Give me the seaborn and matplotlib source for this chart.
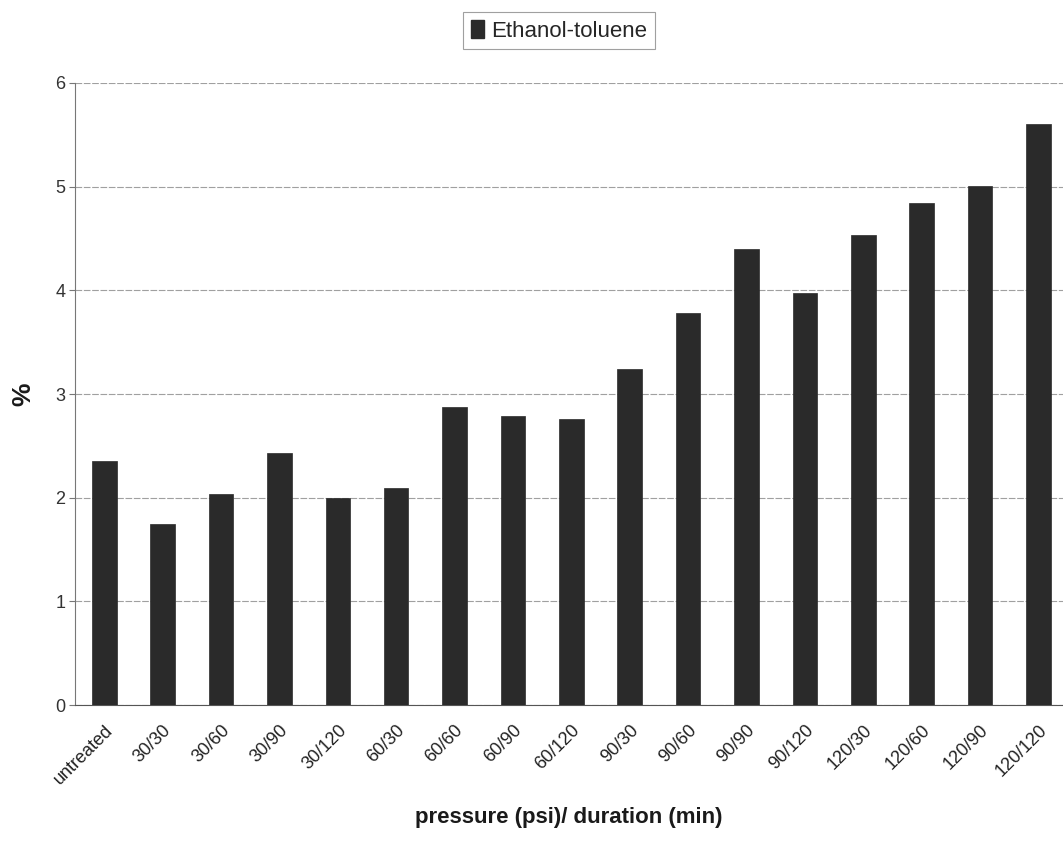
import matplotlib
matplotlib.use("Agg")
import matplotlib.pyplot as plt
import seaborn as sns
import pandas as pd
from matplotlib.patches import Patch

categories = ["untreated", "30/30", "30/60", "30/90", "30/120", "60/30", "60/60",
              "60/90", "60/120", "90/30", "90/60", "90/90", "90/120", "120/30",
              "120/60", "120/90", "120/120"]
values = [2.35, 1.75, 2.04, 2.43, 2.00, 2.09, 2.87, 2.79, 2.76, 3.24, 3.78,
          4.40, 3.97, 4.53, 4.84, 5.01, 5.60]
series_name = "Ethanol-toluene"
y_ticks = [0, 1, 2, 3, 4, 5, 6]

sns.set_theme(style="white")
plt.rcParams["font.family"] = ["Liberation Sans", "DejaVu Sans"]

df = pd.DataFrame({"condition": categories, "pct": values})

fig = plt.figure(figsize=(10.63, 8.52), dpi=100)
ax = fig.add_axes([0.0706, 0.1725, 0.9294, 0.7301])

bar_color = "#2a2a2a"
sns.barplot(data=df, x="condition", y="pct", color=bar_color, width=0.42,
            saturation=1, ax=ax, edgecolor=bar_color, linewidth=0.5, zorder=3)

ax.set_ylim(0, 6)
ax.set_xlim(-0.5, 16.42)
ax.set_yticks(y_ticks)
ax.set_yticklabels([str(t) for t in y_ticks], fontsize=13, color="#333333")
ax.yaxis.grid(True, color="#a0a0a0", linewidth=0.8, linestyle=(0, (6, 1.5)), zorder=0)
ax.xaxis.grid(False)

for side in ["top", "right"]:
    ax.spines[side].set_visible(False)
ax.spines["left"].set_color("#777777")
ax.spines["bottom"].set_color("#555555")
ax.spines["left"].set_linewidth(0.8)
ax.spines["bottom"].set_linewidth(0.8)

# Category tick marks sit between bars
ax.set_xticks([i + 0.5 for i in range(len(categories) - 1)], minor=True)
ax.tick_params(axis="x", which="minor", length=5, width=0.8, color="#555555", direction="out")
ax.tick_params(axis="x", which="major", length=0, pad=12)
ax.tick_params(axis="y", which="major", length=4, width=0.8, color="#777777", pad=3, left=True)
ax.set_xticks(range(len(categories)))
ax.set_xticklabels(categories, rotation=45, ha="right", rotation_mode="anchor",
                   fontsize=13, color="#222222")

ax.set_xlabel("pressure (psi)/ duration (min)", fontsize=16, fontweight="bold",
              labelpad=14, color="#1a1a1a")
ax.set_ylabel("%", fontsize=19, fontweight="bold", labelpad=14, color="#1a1a1a")

handle = Patch(facecolor=bar_color, edgecolor=bar_color)
leg = fig.legend([handle], [series_name], loc="upper center",
                 bbox_to_anchor=(0.526, 0.999), frameon=True, fancybox=False,
                 fontsize=16, handlelength=0.6, handleheight=0.9,
                 handletextpad=0.3, borderpad=0.35)
leg.get_frame().set_edgecolor("#888888")
leg.get_frame().set_linewidth(0.8)

fig.savefig("out.png", dpi=100, facecolor="white")
